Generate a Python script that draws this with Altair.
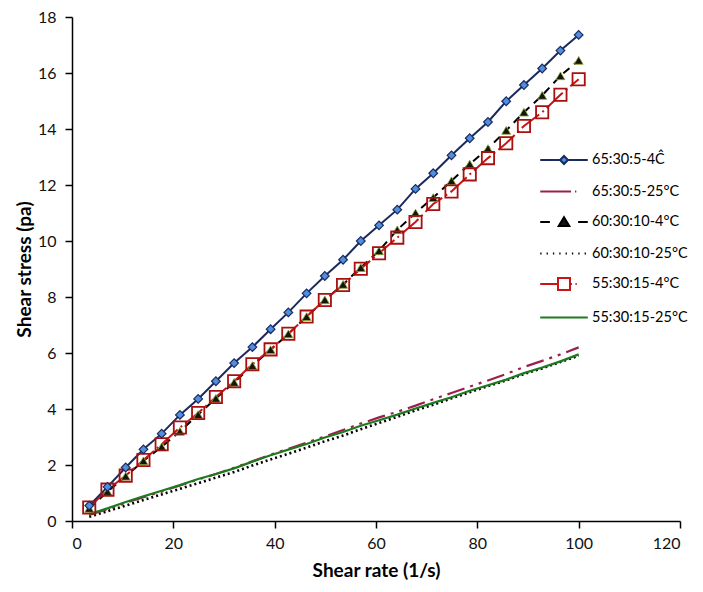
import altair as alt
import pandas as pd

# Shear rate (1/s)
shear_rate = [3.4, 7.0, 10.6, 14.1, 17.7, 21.3, 24.9, 28.4, 32.0, 35.6, 39.2, 42.7, 46.3, 49.9,
              53.5, 57.0, 60.6, 64.2, 67.8, 71.3, 74.9, 78.5, 82.1, 85.7, 89.2, 92.8, 96.4, 100.0]

# Shear stress (pa) per sample
s65_4 = [0.55, 1.22, 1.91, 2.56, 3.12, 3.79, 4.36, 4.99, 5.64, 6.21, 6.85, 7.45, 8.13, 8.75,
         9.33, 10.0, 10.56, 11.12, 11.86, 12.42, 13.06, 13.67, 14.25, 14.99, 15.57, 16.16, 16.8, 17.36]
s65_25 = [0.22, 0.42, 0.65, 0.85, 1.05, 1.27, 1.48, 1.68, 1.9, 2.13, 2.37, 2.58, 2.8, 3.02,
          3.25, 3.48, 3.7, 3.9, 4.12, 4.35, 4.57, 4.8, 5.02, 5.25, 5.5, 5.72, 5.95, 6.2]
s60_4 = [0.45, 1.05, 1.6, 2.15, 2.65, 3.2, 3.8, 4.38, 4.95, 5.55, 6.12, 6.68, 7.3, 7.9,
         8.45, 9.05, 9.65, 10.4, 11.0, 11.55, 12.15, 12.75, 13.3, 13.95, 14.6, 15.2, 15.9, 16.45]
s60_25 = [0.15, 0.35, 0.55, 0.75, 0.95, 1.15, 1.35, 1.55, 1.75, 1.98, 2.2, 2.4, 2.62, 2.85,
          3.05, 3.28, 3.5, 3.72, 3.95, 4.15, 4.38, 4.6, 4.82, 5.02, 5.25, 5.45, 5.68, 5.9]
s55_4 = [0.48, 1.12, 1.62, 2.18, 2.74, 3.34, 3.86, 4.43, 4.99, 5.6, 6.13, 6.69, 7.3, 7.89,
         8.43, 9.01, 9.56, 10.12, 10.68, 11.32, 11.77, 12.38, 12.96, 13.49, 14.11, 14.6, 15.22, 15.78]
s55_25 = [0.25, 0.45, 0.68, 0.88, 1.08, 1.28, 1.5, 1.68, 1.88, 2.12, 2.35, 2.55, 2.75, 2.98,
          3.18, 3.4, 3.6, 3.8, 4.02, 4.22, 4.42, 4.65, 4.85, 5.05, 5.28, 5.48, 5.7, 5.95]

series_names = ["65:30:5-4Ĉ", "65:30:5-25°C", "60:30:10-4°C",
                "60:30:10-25°C", "55:30:15-4°C", "55:30:15-25°C"]
series_values = [s65_4, s65_25, s60_4, s60_25, s55_4, s55_25]

x_ticks = [0, 20, 40, 60, 80, 100, 120]
y_ticks = [0, 2, 4, 6, 8, 10, 12, 14, 16, 18]

rows = []
for name, vals in zip(series_names, series_values):
    for xv, yv in zip(shear_rate, vals):
        rows.append({"series": name, "x": xv, "y": yv})
df = pd.DataFrame(rows)

NAVY = "#1b2a5e"
MAGENTA = "#9e1f4f"
RED = "#c81414"
GREEN = "#1e7a1e"
BLUE = "#4f8fdf"
TRI = "#141408"

FONT = "Lato"

xenc = alt.X("x:Q", scale=alt.Scale(domain=[0, 120], nice=False),
             axis=alt.Axis(values=x_ticks, title="Shear rate (1/s)"))
yenc = alt.Y("y:Q", scale=alt.Scale(domain=[0, 18], nice=False),
             axis=alt.Axis(values=y_ticks, title="Shear stress (pa)"))

base = alt.Chart(df)


def sel(name):
    return base.transform_filter(alt.datum.series == name)


def line(name, **kw):
    return sel(name).mark_line(**kw).encode(x=xenc, y=yenc)


def pts(name, **kw):
    return sel(name).mark_point(**kw).encode(x=xenc, y=yenc)


layers = [
    line(series_names[3], color="black", strokeWidth=2.6, strokeDash=[2, 3]),
    line(series_names[1], color=MAGENTA, strokeWidth=2.2, strokeDash=[18, 6, 3, 6, 3, 6]),
    line(series_names[5], color=GREEN, strokeWidth=2.2),
    line(series_names[2], color="black", strokeWidth=2, strokeDash=[8, 6]),
    line(series_names[4], color=RED, strokeWidth=2, strokeDash=[22, 4, 2, 4]),
    line(series_names[0], color=NAVY, strokeWidth=2),
    pts(series_names[2], shape="triangle-up", size=80, filled=True, fill=TRI,
        stroke="#8aa83a", strokeWidth=0.8, opacity=1),
    pts(series_names[4], shape="square", size=150, filled=False, stroke="#a81010",
        strokeWidth=1.8, opacity=1),
    pts(series_names[0], shape="diamond", size=75, filled=True, fill=BLUE,
        stroke=NAVY, strokeWidth=1.2, opacity=1),
]

# Legend symbols (line + marker sketches in symbol units)
dots = "".join(f"M{-2.7 + i * 0.72:.2f},0L{-2.55 + i * 0.72:.2f},0" for i in range(8))
legend_paths = [
    "M-2.7,0L-0.45,0M0.45,0L2.7,0M0,-0.45L0.45,0L0,0.45L-0.45,0Z",
    "M-2.7,0L0.8,0M1.25,0L1.4,0",
    "M-2.7,0L-1.6,0M1.6,0L2.7,0M0,-0.55L0.6,0.45L-0.6,0.45Z",
    dots,
    "M-2.7,0L-0.68,0M0.68,0L0.9,0M1.3,0L1.45,0M-0.68,-0.68L0.68,-0.68L0.68,0.68L-0.68,0.68Z",
    "M-2.7,0L2.7,0",
]
legend_fills = [BLUE, "transparent", TRI, "transparent", "white", "transparent"]
legend_strokes = [NAVY, MAGENTA, "black", "black", RED, GREEN]

legend_layer = base.mark_point(filled=True).encode(
    x=xenc,
    y=yenc,
    shape=alt.Shape("series:N", title=None,
                    scale=alt.Scale(domain=series_names, range=legend_paths)),
    fill=alt.Fill("series:N", title=None,
                  scale=alt.Scale(domain=series_names, range=legend_fills)),
    stroke=alt.Stroke("series:N", title=None,
                      scale=alt.Scale(domain=series_names, range=legend_strokes)),
    opacity=alt.value(0),
)

chart = alt.layer(*layers, legend_layer).properties(
    width=608,
    height=504,
    autosize=alt.AutoSizeParams(type="none"),
    padding={"left": 64, "top": 9, "right": 15, "bottom": 60},
    background="white",
).configure_view(
    stroke=None
).configure_axis(
    grid=False,
    domainColor="black",
    domainWidth=1.5,
    tickColor="black",
    tickWidth=1.5,
    tickSize=7,
    labelFont=FONT,
    labelFontSize=16,
    labelColor="#111",
    titleFont=FONT,
    titleFontSize=19,
    titleFontWeight="bold",
    titleColor="black",
).configure_axisX(
    labelPadding=7,
    titlePadding=10,
).configure_axisY(
    labelPadding=9,
    titlePadding=3,
).configure_legend(
    orient="none",
    legendX=482,
    legendY=133,
    direction="vertical",
    padding=0,
    symbolSize=310,
    symbolStrokeWidth=2,
    symbolFillColor="white",
    labelFont=FONT,
    labelFontSize=14.5,
    labelColor="black",
    labelOffset=18,
    labelLimit=300,
    rowPadding=13.5,
)

chart.save("out.html", embed_options={"renderer": "svg", "actions": False})
